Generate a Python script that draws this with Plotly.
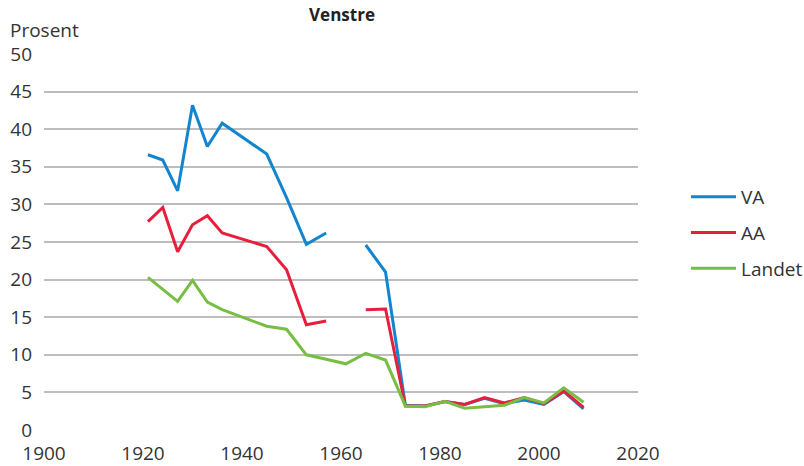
import plotly.graph_objects as go

years = [1921, 1924, 1927, 1930, 1933, 1936, 1945, 1949, 1953, 1957, 1961, 1965,
         1969, 1973, 1977, 1981, 1985, 1989, 1993, 1997, 2001, 2005, 2009]
va = [36.6, 35.9, 31.8, 43.2, 37.7, 40.8, 36.7, 30.9, 24.7, 26.2, None, 24.6,
      21.0, 3.3, 3.2, 3.8, 3.4, 4.2, 3.5, 4.0, 3.4, 5.1, 2.8]
aa = [27.7, 29.6, 23.7, 27.3, 28.5, 26.2, 24.4, 21.3, 14.0, 14.5, None, 16.0,
      16.1, 3.2, 3.2, 3.8, 3.4, 4.3, 3.6, 4.3, 3.5, 5.2, 3.0]
landet = [20.3, 18.7, 17.1, 19.9, 17.0, 16.0, 13.8, 13.4, 10.0, 9.4, 8.8, 10.2,
          9.3, 3.2, 3.1, 3.8, 2.9, 3.1, 3.3, 4.3, 3.6, 5.6, 3.7]

series = [("VA", va, "#1285cf"), ("AA", aa, "#e61f3d"), ("Landet", landet, "#77bf43")]
font = "Open Sans"
txt = "#333333"

fig = go.Figure()
for i, (name, vals, col) in enumerate(series):
    fig.add_trace(go.Scatter(x=years, y=vals, name=name, mode="lines",
                             line=dict(color=col, width=3), connectgaps=False,
                             legendgroup=name))

fig.update_layout(
    width=804, height=466,
    margin=dict(l=44, r=166, t=54, b=36, autoexpand=False),
    paper_bgcolor="white", plot_bgcolor="white",
    font=dict(family=font, size=19, color=txt),
    title=dict(text="<b>Venstre</b>", x=(342) / 804, xanchor="center",
               y=1 - 15 / 466, yanchor="middle", font=dict(size=17, color="#222222")),
    showlegend=True,
    legend=dict(x=(686 - 44) / 594, y=(430 - 233) / 376, xanchor="left", yanchor="middle",
                font=dict(size=19, color=txt), tracegroupgap=8, itemwidth=45,
                bgcolor="rgba(0,0,0,0)"),
    xaxis=dict(range=[1900, 2020], tickvals=[1900, 1920, 1940, 1960, 1980, 2000, 2020],
               showgrid=False, zeroline=False, showline=False, ticks="",
               automargin=False, ticklabelstandoff=10,
               tickfont=dict(size=19, color=txt)),
    yaxis=dict(range=[0, 50], tickvals=list(range(0, 51, 5)), showgrid=True,
               gridcolor="#bdbdbd", gridwidth=1.5, zeroline=False, showline=False,
               automargin=False,
               ticks="", tickfont=dict(size=19, color=txt), ticklabelstandoff=11),
    annotations=[dict(text="Prosent", xref="paper", yref="paper", x=-36 / 594,
                      y=1 + 24 / 376, xanchor="left", yanchor="middle",
                      showarrow=False, font=dict(size=19, color=txt))],
)
fig.write_html("out.html", config={"displayModeBar": False},
               post_script="document.body.style.margin='0';document.body.style.overflow='hidden';")
